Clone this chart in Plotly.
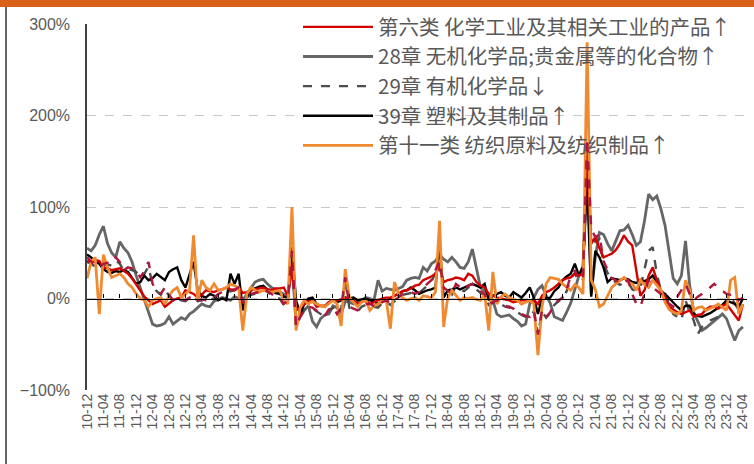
import pandas as pd
import plotly.graph_objects as go

# months 2010-12 .. 2024-04
months = pd.date_range('2010-12-01', '2024-04-01', freq='MS').strftime('%y-%m').tolist()

# 第六类 化学工业及其相关工业的产品 (yoy %)
chem6 = [
    41, 40, 42, 41, 34, 33, 31, 32, 33, 30,
    27, 22, 15, 9, 2, -2, -6, -4, -2, -9,
    -5, -2, 0, 1, 9, 7, 5, 1, 4, 9,
    8, 7, 9, 10, 12, 10, 9, 12, 6, 7,
    9, 10, 11, 12, 10, 9, 11, 11, 12, 3,
    34, -13, -10, -6, -3, -2, -9, -8, -8, -4,
    -2, -2, -1, 1, -1, -2, -6, -4, -2, -6,
    -4, -2, 0, 1, 1, 3, 5, 8, 9, 11,
    14, 15, 20, 22, 24, 27, 35, 18, 20, 21,
    23, 22, 20, 27, 25, 18, 14, 12, 5, 3,
    1, 0, -1, -2, -4, -3, -2, -2, -3, -2,
    -6, 3, 7, 9, 12, 16, 20, 22, 23, 27,
    25, 27, 170, 60, 67, 55, 45, 47, 49, 53,
    60, 69, 62, 58, 30, 3, 9, 25, 34, 20,
    9, 2, -9, -12, -15, -17, -15, -13, -20, -18,
    -17, -12, -9, -9, -11, -8, -6, -12, -17, -24,
    -6,
]

# 28章 无机化学品
ch28 = [
    55, 52, 58, 70, 79, 60, 50, 45, 62, 55,
    50, 40, 25, 12, 0, -15, -28, -30, -29, -27,
    -20, -28, -24, -21, -23, -17, -14, -10, -6, -8,
    -9, -3, -1, 1, 0, -2, 2, 0, -2, 5,
    12, 18, 20, 21, 16, 12, 10, 7, 5, 2,
    40, -28, -20, -13, -8, -25, -31, -22, -18, -17,
    -8, -10, -17, -3, -4, -6, -3, -2, 1, 0,
    -2, 20, 8, 11, 10, 9, 11, 13, 20, 22,
    23, 22, 34, 30, 38, 41, 48, 43, 40, 45,
    40, 34, 33, 40, 54, 34, 12, 8, 5, -2,
    -17, -20, -19, -18, -22, -25, -30, -28, -6, 1,
    10, 14, 3, -5, -20, -22, -24, -15, -5, 10,
    25, 35, 150, 5, 45, 72, 70, 60, 52, 63,
    74, 75, 80, 70, 58, 62, 85, 114, 108, 112,
    98, 80, 50, 22, 16, 25, 63, 15, -15, -25,
    -35, -32, -28, -24, -20, -17, -22, -35, -46, -35,
    -31,
]

# 29章 有机化学品
ch29 = [
    40, 38, 35, 33, 36, 37, 36, 42, 38, 30,
    32, 31, 29, 22, 27, 35, 15, 8, 4, 10,
    3, -3, 0, -2, -3, 0, 2, -3, -2, -3,
    -1, 0, 4, 6, 8, 8, 9, 11, -6, 1,
    4, 5, 6, 10, 7, 4, 1, 0, -7, -3,
    48, -30, -19, -12, -10, -11, -14, -17, -20, -13,
    -10, -18, -11, 20, -10, -12, -14, -9, -7, -7,
    -9, -10, -5, -3, -7, -3, 0, 4, 5, 6,
    4, 6, 10, 14, 18, 28, 38, 10, 6, 4,
    14, 10, 8, 12, 14, 10, 6, 4, -7, -5,
    -3, -6, -9, -10, -12, -15, -18, -20, -21, -14,
    -40, -14, -21, -16, -7, -3, 0, 8, 22, 28,
    18, 21, 150, 70, 62, 65, 38, 28, 20, 18,
    15, 17, 18, 10, 8, 12, 34, 52, 56, 27,
    9, 5, -5, -17, -20, -24, -2, -15, -24, -39,
    -31, -28, -24, -22, -20, -9, -4, 1, -5, -13,
    -9,
]

# 39章 塑料及其制品
ch39 = [
    48, 45, 40, 38, 32, 29, 28, 30, 29, 31,
    29, 23, 16, 18, 25, 20, 22, 27, 23, 20,
    29, 32, 34, 20, 12, 27, 40, 9, 3, 1,
    5, 3, -2, 0, -2, 27, 16, 27, -13, 2,
    9, 11, 13, 14, 10, 9, 6, 5, 2, 1,
    56, -2, -17, -6, 0, 1, -6, -8, -9, -4,
    -2, -4, -2, 1, 0, 1, -2, -1, 0, -2,
    -3, -6, -3, -2, 0, 3, 5, 8, 9, 12,
    9, 5, 7, 9, 10, 12, 60, 1, 9, 10,
    12, 10, 12, 14, 16, 14, 12, 16, -2, 3,
    5, 7, 3, 1, 7, 4, 1, 6, 12, 1,
    -17, 1, 0, 1, 8, 12, 20, 24, 27, 38,
    25, 35, 130, 2, 52, 45, 34, 18, 22, 21,
    20, 22, 21, 18, 17, 20, 19, 21, 25, 18,
    8, 5, 0, -4, -9, -13, -8, -8, -17, -19,
    -20, -18, -16, -13, -10, -7, -2, -4, -6, -9,
    0,
]

# 第十一类 纺织原料及纺织制品
tex11 = [
    22, 40, 45, -17, 48, 34, 23, 25, 27, 23,
    16, 12, 5, 0, -2, -9, -2, 0, 1, -6,
    3, 9, 12, 1, 5, 9, 69, -2, 20, 12,
    9, 16, 9, 10, 12, 16, 14, 12, -35, 5,
    12, 9, 7, 9, 8, 7, 8, 9, -2, -6,
    100, -35, -10, -2, -6, -3, -6, -8, -9, -5,
    -2, -6, -30, 32, 1, -4, -9, -4, -2, -13,
    -8, -6, -3, -2, -33, 18, 5, 1, -2, 0,
    1, -2, 3, 2, 1, 7, 85, -31, 1, 9,
    3, -2, 1, 0, 1, -1, -2, 5, -35, 29,
    -6, 2, 5, 1, -1, -2, -6, -4, -2, -6,
    -62, -9, 16, 23, 22, 21, 16, 12, 9, 15,
    12, 5, 280, 20, 10, -9, -6, 3, 12, 16,
    20, 23, 18, 16, 9, 20, 15, 12, 20, 15,
    9, -4, -12, -15, -17, -13, 20, 9, -13, -10,
    -9, -13, -11, -9, -6, -10, -13, 20, 23, -17,
    -6,
]

# extra dashed series drawn in the chart but not in the legend
extra = [
    45, 40, 36, 34, 38, 39, 38, 45, 40, 31,
    34, 33, 31, 23, 30, 40, 16, 8, 5, 12,
    4, -2, 1, -1, -2, 1, 3, -2, -1, -2,
    0, 1, 5, 7, 9, 9, 10, 12, -5, 2,
    5, 6, 7, 11, 8, 5, 2, 1, -6, -2,
    52, -31, -20, -13, -9, -10, -13, -16, -19, -12,
    -9, -17, -10, 23, -9, -11, -13, -8, -6, -6,
    -8, -9, -4, -2, -6, -2, 1, 5, 6, 7,
    5, 7, 12, 16, 20, 31, 41, 12, 8, 5,
    16, 12, 9, 14, 16, 11, 8, 5, -6, -4,
    -2, -5, -8, -9, -11, -14, -17, -19, -20, -13,
    -39, -13, -20, -15, -6, -2, 1, 10, 25, 31,
    20, 23, 175, 76, 67, 70, 41, 31, 22, 20,
    16, 18, 20, 5, -6, -9, 5, 20, 12, 8,
    5, -2, -6, -9, 2, 9, 16, 5, -2, 2,
    5, 8, 12, 16, 12, 8, 5, 4, 5, -2,
    1,
]

for s in (chem6, ch28, ch29, ch39, tex11, extra):
    assert len(s) == len(months), len(s)

xs = list(range(len(months)))
tick_idx = xs[::4]
tick_txt = [months[i] for i in tick_idx]

names = ['第六类 化学工业及其相关工业的产品↑', '28章 无机化学品;贵金属等的化合物↑',
         '29章 有机化学品↓', '39章 塑料及其制品↑', '第十一类 纺织原料及纺织制品↑']

fig = go.Figure()

#draw order: gray first, orange and dashed crimson on top
traces = [
    (ch28, names[1], dict(color='#666666', width=2.8), 2),
    (ch29, names[2], dict(color='#4d4d4d', width=2.4, dash='dash'), 3),
    (ch39, names[3], dict(color='#000000', width=2.4), 4),
    (chem6, names[0], dict(color='#d40000', width=2.4), 1),
    (tex11, names[4], dict(color='#f08a30', width=2.8), 5),
]
for ys, nm, ln, rank in traces:
    fig.add_trace(go.Scatter(x=xs, y=ys, name=nm, mode='lines', line=ln,
                             legendrank=rank, hoverinfo='skip'))

fig.add_trace(go.Scatter(x=xs, y=extra, mode='lines', showlegend=False,
                         line=dict(color='#b0163c', width=2.4, dash='dash'), hoverinfo='skip'))

# dummy trace so the zero-line axis shows
fig.add_trace(go.Scatter(x=xs, y=[None] * len(xs), xaxis='x2', showlegend=False,
                         hoverinfo='skip'))

W, H = 754, 464
L, R, T, B = 87, 7, 24, 74
pw, ph = W - L - R, H - T - B

fig.update_layout(
    width=W, height=H,
    margin=dict(l=L, r=R, t=T, b=B, autoexpand=False),
    paper_bgcolor='white', plot_bgcolor='white',
    font=dict(family='Liberation Sans, Noto Sans CJK SC', color='#595959'),
    showlegend=True,
    legend=dict(x=(298 - L) / pw, y=1 + (T - 7) / ph, xanchor='left', yanchor='top',
                bgcolor='rgba(0,0,0,0)', itemwidth=70, tracegroupgap=0,
                font=dict(family='Noto Sans CJK SC', size=20.5, color='#595959')),
    xaxis=dict(range=[0, 161], tickvals=tick_idx, ticktext=tick_txt, tickangle=-90,
               tickfont=dict(size=14, color='#595959'), showgrid=False, showline=False,
               zeroline=False, ticks='', automargin=False),
    xaxis2=dict(overlaying='x', anchor='free', position=0.25, range=[0, 161],
                tickvals=tick_idx, ticks='inside', ticklen=4, tickcolor='black',
                showline=True, linecolor='black', linewidth=1.3, showticklabels=False,
                showgrid=False, zeroline=False),
    yaxis=dict(range=[-100, 300], dtick=100, ticksuffix='%', showgrid=True,
               gridcolor='#c8c8c8', griddash='dash', zeroline=False,
               showline=True, linecolor='#404040', linewidth=1.5, automargin=False,
               tickfont=dict(size=16, color='#595959'), ticks='', ticklabelstandoff=12),
    shapes=[
        # orange strip on top
        dict(type='rect', xref='paper', yref='paper', x0=-L / pw, x1=(W - L) / pw,
             y0=1 + (T - 7) / ph, y1=1 + T / ph, fillcolor='#d9601a', line_width=0, layer='above'),
        # frame line on left
        dict(type='line', xref='paper', yref='paper', x0=(6 - L) / pw, x1=(6 - L) / pw,
             y0=-B / ph, y1=1 + (T - 7) / ph, line=dict(color='#333333', width=1.5)),
    ],
)

# page body has an 8px margin by default, drop it
fig.write_html("out.html", config={'displayModeBar': False},
               post_script="document.body.style.margin='0';")
